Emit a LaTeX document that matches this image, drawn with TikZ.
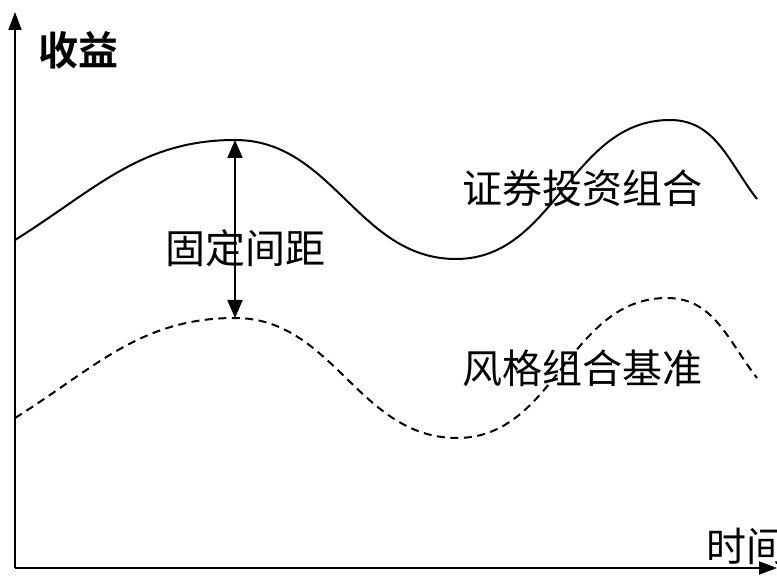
\documentclass[tikz,border=0pt]{standalone}
\usepackage{fontspec}
\newfontfamily\cjk{Noto Sans CJK SC}
\newfontfamily\cjkb{Noto Sans CJK SC Bold}
\usetikzlibrary{arrows.meta}
\begin{document}
\begin{tikzpicture}[x=1pt,y=1pt,
  curve/.style={line width=2pt},
  dcurve/.style={line width=2pt,dash pattern=on 8pt off 5.5pt},
  axis/.style={line width=2pt,-{Triangle[length=18pt,width=13pt]}},
  lbl/.style={inner sep=0pt,font=\cjk\fontsize{40}{48}\selectfont}]
\useasboundingbox (0,0) rectangle (777,576);
% axes
\coordinate (o) at (15,8);
\coordinate (ytop) at (15,564);
\coordinate (xend) at (777,8);
\draw[axis] (o) -- (ytop);
\draw[axis] (o) -- (xend);
% solid curve (portfolio)
\draw[curve] (15,336) to[out=32,in=180] (235,436) to[out=0,in=180] (456,317)
  to[out=0,in=180] (670,456) to[out=0,in=128] (757,377);
% dashed curve (benchmark)
\draw[dcurve] (15,158) to[out=32,in=180] (235,258) to[out=0,in=180] (457,138)
  to[out=0,in=180] (667,278) to[out=0,in=128] (757,198);
% fixed gap arrow
\coordinate (top) at (235,436);
\coordinate (bot) at (235,258);
\draw[line width=2pt,{Triangle[length=18pt,width=15pt]}-{Triangle[length=18pt,width=15pt]}] (top) -- (bot);
% labels
\node[lbl,font=\cjkb\fontsize{40}{48}\selectfont] (shouyi) at (78,526) {收益};
\node[lbl] (gap) at (245,328) {固定间距};
\node[lbl] (port) at (582,388) {证券投资组合};
\node[lbl] (bench) at (582,208) {风格组合基准};
\node[lbl,anchor=west] (time) at (706,30) {时间};
\end{tikzpicture}
\end{document}
